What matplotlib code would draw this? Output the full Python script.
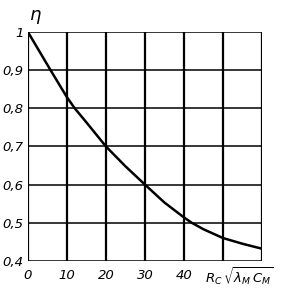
import matplotlib
matplotlib.use("Agg")
import matplotlib.pyplot as plt

# values
x_vals = [0, 5.8, 10, 12, 15, 20, 25, 30, 35, 40, 42, 45, 50, 55, 60]
eta_vals = [1.0, 0.9, 0.829, 0.80, 0.763, 0.70, 0.648, 0.60, 0.553, 0.514, 0.50, 0.483, 0.46, 0.445, 0.432]

x_ticks = [0, 10, 20, 30, 40]
x_ticklabels = ["0", "10", "20", "30", "40"]
y_ticks = [0.4, 0.5, 0.6, 0.7, 0.8, 0.9, 1.0]
y_ticklabels = ["0,4", "0,5", "0,6", "0,7", "0,8", "0,9", "1"]
grid_x = [0, 10, 20, 30, 40, 50, 60]

fig = plt.figure(figsize=(2.82, 2.88), dpi=100)
ax = fig.add_axes([0.099, 0.094, 0.83, 0.795])

for gx in grid_x:
    ax.axvline(gx, color="black", lw=1.6, zorder=1)
for gy in y_ticks:
    ax.axhline(gy, color="black", lw=1.1, zorder=1)

ax.plot(x_vals, eta_vals, color="black", lw=1.8, zorder=3)

ax.set_xlim(0, 60)
ax.set_ylim(0.4, 1.0)
for spine in ax.spines.values():
    spine.set_visible(False)

ax.set_xticks(x_ticks)
ax.set_xticklabels(x_ticklabels, fontstyle="italic", fontsize=9.5)
ax.set_yticks(y_ticks)
ax.set_yticklabels(y_ticklabels, fontstyle="italic", fontsize=9.5)
ax.tick_params(axis="x", length=0, pad=6)
ax.tick_params(axis="y", length=0, pad=3)

ax.text(45.3, 0.4 - 0.012, r"$R_C\,\sqrt{\lambda_M\, C_M}$", ha="left", va="top", fontsize=9.5)
ax.text(0.3, 1.015, r"$\eta$", ha="left", va="bottom", fontsize=13)

fig.savefig("out.png", dpi=100)
